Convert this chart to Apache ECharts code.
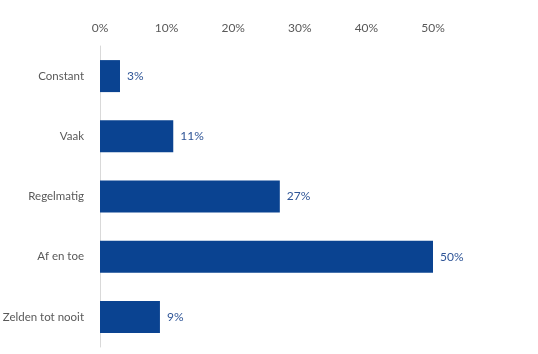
<!DOCTYPE html>
<html>
	<head>
		<meta charset="utf-8">
		<title>Frequentie</title>
		<script src="https://cdn.jsdelivr.net/npm/echarts@6/dist/echarts.min.js"></script>
		<style>
			html, body { margin: 0; padding: 0; background: #fff; }
		</style>
	</head>
	<body>
		<div id="chart" style="width:538px;height:354px;"></div>
		<script>
			// categorieën en percentages
			var categories = ['Constant', 'Vaak', 'Regelmatig', 'Af en toe', 'Zelden tot nooit'];
			var values = [3, 11, 27, 50, 9];
			var tickMax = 50;
			var tickStep = 10;

			var chart = echarts.init(document.getElementById('chart'));
			var font = 'Lato, "Open Sans", sans-serif';
			var option = {
				animation: false,
				grid: {
					left: 100,
					right: 105,
					top: 46,
					bottom: 7,
					containLabel: false,
					outerBoundsMode: 'none'
				},
				xAxis: {
					type: 'value',
					position: 'top',
					min: 0,
					max: tickMax,
					interval: tickStep,
					axisLine: { show: false },
					axisTick: { show: false },
					splitLine: { show: false },
					axisLabel: {
						formatter: '{value}%',
						color: '#595959',
						fontFamily: font,
						fontSize: 12,
						margin: 12
					}
				},
				yAxis: {
					type: 'category',
					data: categories,
					inverse: true,
					axisLine: { show: true, lineStyle: { color: '#d9d9d9', width: 1 } },
					axisTick: { show: false },
					axisLabel: {
						color: '#595959',
						fontFamily: font,
						fontSize: 11.5,
						margin: 16
					}
				},
				series: [{
					type: 'bar',
					data: values,
					barWidth: 32,
					itemStyle: { color: '#0A4391' },
					label: {
						show: true,
						position: 'right',
						distance: 7,
						formatter: '{c}%',
						color: '#2F5597',
						fontFamily: font,
						fontSize: 12
					}
				}]
			};
			chart.setOption(option);
		</script>
	</body>
</html>
